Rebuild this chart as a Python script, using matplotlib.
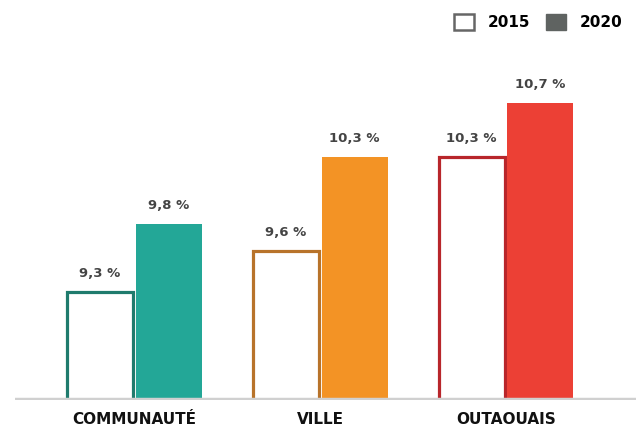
import matplotlib.pyplot as plt
import numpy as np
from matplotlib.patches import Patch

categories = ['COMMUNAUTÉ', 'VILLE', 'OUTAOUAIS']
values_2015 = [9.3, 9.6, 10.3]
values_2020 = [9.8, 10.3, 10.7]
labels_2015 = ['9,3 %', '9,6 %', '10,3 %']
labels_2020 = ['9,8 %', '10,3 %', '10,7 %']

edge_colors = ['#1f7b6d', '#b8732a', '#b8262b']
fill_colors = ['#23a797', '#f39325', '#ec4035']

fig = plt.figure(figsize=(6.36, 4.30), dpi=100)
ax = fig.add_axes([15 / 636, 30 / 430, 621 / 636, 400 / 430])

x = np.arange(len(categories))
width = 0.355
offset = 0.185
ymin = 8.5

for i in range(len(categories)):
    ax.bar(x[i] - offset, values_2015[i] - ymin, width, bottom=ymin,
           facecolor='white', edgecolor=edge_colors[i], linewidth=2.3, zorder=2)
    ax.bar(x[i] + offset, values_2020[i] - ymin, width, bottom=ymin,
           facecolor=fill_colors[i], edgecolor='none', zorder=2)
    ax.text(x[i] - offset, values_2015[i] + 0.09, labels_2015[i], ha='center', va='bottom',
            fontsize=9.5, fontweight='bold', color='#444444')
    ax.text(x[i] + offset, values_2020[i] + 0.09, labels_2020[i], ha='center', va='bottom',
            fontsize=9.5, fontweight='bold', color='#444444')

# baseline
ax.axhline(ymin, color='#d0d0d0', linewidth=3.2, zorder=3)

ax.set_xlim(-0.642, 2.699)
ax.set_ylim(ymin, ymin + 400 / 135)
ax.set_xticks(x)
ax.set_xticklabels(categories, fontsize=11, fontweight='bold', color='#111111')
ax.tick_params(axis='x', length=0, pad=9)
ax.set_yticks([])
for s in ax.spines.values():
    s.set_visible(False)

handles = [Patch(facecolor='white', edgecolor='#666666', linewidth=1.8, label='2015'),
           Patch(facecolor='#5f6361', edgecolor='#5f6361', label='2020')]
fig.legend(handles=handles, loc='upper right', bbox_to_anchor=(1.0, 1.0), ncol=2,
           frameon=False, handlelength=1.3, handleheight=1.3, columnspacing=1.0,
           handletextpad=0.9, prop={'weight': 'bold', 'size': 11})

fig.savefig('out.png', dpi=100)
